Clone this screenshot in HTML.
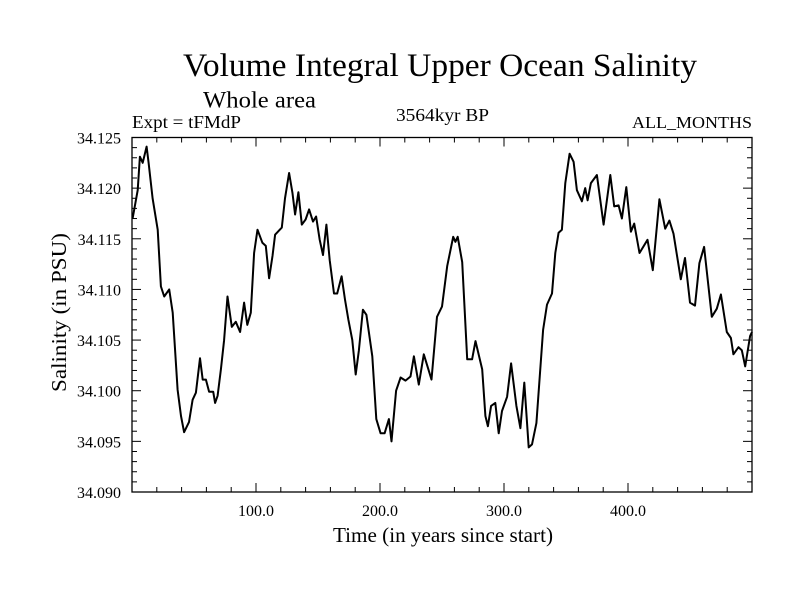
<!DOCTYPE html>
<html><head><meta charset="utf-8"><style>
html,body{margin:0;padding:0;background:#fff;}
svg{display:block;font-family:"Liberation Serif",serif;}
</style></head><body>
<svg id="chart" width="800" height="600" viewBox="0 0 800 600">
<text x="183" y="76" font-size="33" textLength="514" lengthAdjust="spacingAndGlyphs">Volume Integral Upper Ocean Salinity</text>
<text x="203" y="107.5" font-size="23" textLength="113" lengthAdjust="spacingAndGlyphs">Whole area</text>
<text x="132" y="128" font-size="18" textLength="109" lengthAdjust="spacingAndGlyphs">Expt = tFMdP</text>
<text x="396" y="121" font-size="18" textLength="93" lengthAdjust="spacingAndGlyphs">3564kyr BP</text>
<text x="632" y="128" font-size="17" textLength="120" lengthAdjust="spacingAndGlyphs">ALL_MONTHS</text>
<text transform="translate(66,392) rotate(-90)" font-size="21" textLength="159" lengthAdjust="spacingAndGlyphs">Salinity (in PSU)</text>
<text x="333" y="542" font-size="21" textLength="220" lengthAdjust="spacingAndGlyphs">Time (in years since start)</text>
<g id="axes"></g>
<g id="series"></g>
</svg>
<script>
const years=[0.5,4.6,6.4,8.6,11.8,13.4,16.6,20.7,23.3,26,30,32.8,36.8,39.5,42,46,48.9,51.5,54.8,57,59.6,62.2,65.5,67,69,71.7,74.3,77,80.5,83.7,87.2,90.4,93,95.8,98.5,101.2,105.2,107.9,110.6,113.3,115.4,120.8,123.4,126.7,129.4,131.5,134.2,136.9,140,142.8,146,148.5,151.4,154,156.8,159.4,162.9,165.5,169,171.8,174.5,177.7,180.4,183,186.2,189,193.8,197,200.5,203.7,207.2,209.3,213,216.6,220.6,224.6,227.3,231.3,235.3,241.5,246,250,254.2,259,260.8,262.7,266.3,270.3,274.3,277,282.4,285,287,289.6,293,295.7,298.4,302.5,305.7,310,313.2,316.4,319.9,322.6,326.1,331.5,334.7,338.7,341.4,344,346.7,349.4,352.9,356.1,358.8,362.8,365.5,367.4,370.1,374.9,380.3,385.7,388.9,392.4,395.1,398.6,402.3,405,409.3,415.7,420,425.3,430,433.4,436.7,442.6,446,450,454,457.6,461.4,467.6,471.6,474.9,479.7,483,485,489.1,491.8,494.5,498.5,500];
const salinity=[34.117,34.1198,34.1231,34.1225,34.1241,34.1225,34.119,34.1159,34.1103,34.1093,34.110,34.1077,34.1001,34.0975,34.0959,34.0969,34.0991,34.0998,34.1032,34.1011,34.1011,34.0999,34.0999,34.0988,34.0995,34.1021,34.105,34.1093,34.1063,34.1068,34.1058,34.1087,34.1065,34.1077,34.1136,34.1159,34.1146,34.1143,34.1111,34.1133,34.1154,34.1161,34.119,34.1215,34.1195,34.1174,34.1196,34.1164,34.1169,34.1179,34.1167,34.1172,34.1149,34.1134,34.1164,34.1129,34.1096,34.1096,34.1113,34.109,34.107,34.105,34.1016,34.104,34.108,34.1075,34.1034,34.0972,34.0958,34.0958,34.0972,34.095,34.1,34.1013,34.101,34.1014,34.1034,34.1006,34.1036,34.1011,34.1073,34.1083,34.1123,34.1152,34.1147,34.1152,34.1127,34.1031,34.1031,34.1049,34.1021,34.0975,34.0965,34.0985,34.0988,34.0958,34.098,34.0994,34.1027,34.0985,34.0963,34.1008,34.0944,34.0947,34.0968,34.106,34.1085,34.1096,34.1136,34.1156,34.1159,34.1205,34.1234,34.1226,34.1198,34.1187,34.12,34.1188,34.1205,34.1213,34.1164,34.1213,34.1182,34.1183,34.117,34.1201,34.1157,34.1165,34.1136,34.1149,34.1119,34.1189,34.116,34.1168,34.1155,34.111,34.1131,34.1087,34.1084,34.1126,34.1142,34.1073,34.1081,34.1095,34.1058,34.1052,34.1036,34.1043,34.104,34.1024,34.1054,34.1058];
const yTicks=[34.090,34.095,34.100,34.105,34.110,34.115,34.120,34.125];
const yTickLabels=["34.090","34.095","34.100","34.105","34.110","34.115","34.120","34.125"];
const xTicks=[100,200,300,400];
const xTickLabels=["100.0","200.0","300.0","400.0"];

const L=132,R=752,T=137.5,B=492;
const xMin=0,xMax=500,yMin=34.090,yMax=34.125;
function xs(v){return L+(v-xMin)/(xMax-xMin)*(R-L);}
function ys(v){return B-(v-yMin)/(yMax-yMin)*(B-T);}
const NS="http://www.w3.org/2000/svg";
const axes=document.getElementById('axes');
function mk(tag,attrs,parent){const e=document.createElementNS(NS,tag);for(const k in attrs)e.setAttribute(k,attrs[k]);parent.appendChild(e);return e;}

const frame=mk('rect',{x:L,y:T,width:R-L,height:B-T,fill:'none',stroke:'#000','stroke-width':1.3},axes);



for(let i=0;i<=35;i++){
  const v=yMin+i*0.001;const y=ys(v);const len=(i%5===0)?9:5;
  const t1=mk('line',{x1:L,y1:y,x2:L+len,y2:y,stroke:'#000','stroke-width':1},axes);
  
  
  const t2=mk('line',{x1:R,y1:y,x2:R-len,y2:y,stroke:'#000','stroke-width':1},axes);
  
  
}
for(let v=20;v<500;v+=20){
  const x=xs(v);const len=(v%100===0)?9:5;
  const t1=mk('line',{x1:x,y1:B,x2:x,y2:B-len,stroke:'#000','stroke-width':1},axes);
  
  
  const t2=mk('line',{x1:x,y1:T,x2:x,y2:T+len,stroke:'#000','stroke-width':1},axes);
  
  
}
yTicks.forEach((v,i)=>{
  const t=mk('text',{x:121,y:ys(v)+6,'font-size':16,'text-anchor':'end'},axes);
  t.textContent=yTickLabels[i];
  
  
});
xTicks.forEach((v,i)=>{
  const t=mk('text',{x:xs(v),y:B+24,'font-size':16,'text-anchor':'middle'},axes);
  t.textContent=xTickLabels[i];
  
  
});
const pts=years.map((yr,i)=>xs(yr).toFixed(1)+','+ys(salinity[i]).toFixed(1)).join(' ');
const line=mk('polyline',{points:pts,fill:'none',stroke:'#000','stroke-width':2,'stroke-linejoin':'round'},document.getElementById('series'));


</script>
</body></html>
